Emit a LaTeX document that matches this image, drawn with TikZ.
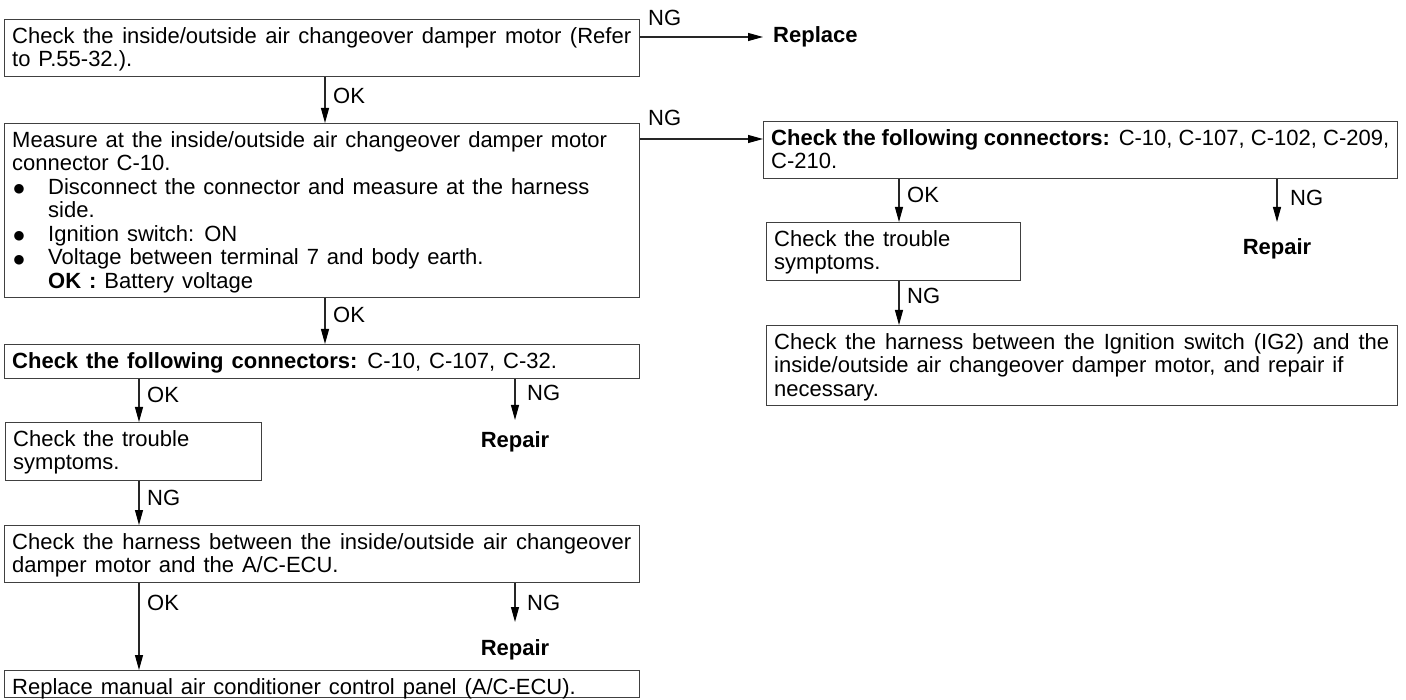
\documentclass[tikz,border=0pt]{standalone}
\usepackage{fontspec}
\setmainfont{Liberation Sans}[WordSpace=1.3]
\newfontfamily\symfont{DejaVu Sans}
\usetikzlibrary{arrows.meta}

\newcommand\fs{\fontsize{22}{23.5}\selectfont}
% bulleted item with hanging indent
\newcommand\bitem{\par\hangindent=36pt\hangafter=1\noindent\makebox[36pt][l]{\hspace{1.5pt}\raisebox{1.5pt}{\symfont\fontsize{12.5}{12}\selectfont ●}}}

\definecolor{boxc}{gray}{0.25}
\definecolor{linec}{gray}{0.15}

\tikzset{
  box/.style={draw=boxc, line width=1.2pt, rectangle, anchor=north west, inner sep=0pt},
  txt/.style={anchor=north west, inner sep=0pt, align=justify, font=\fs},
  lab/.style={anchor=west, inner sep=0pt, font=\fs},
  act/.style={inner sep=0pt, font=\fs\bfseries},
  flow/.style={draw=linec, line width=1.1pt, -{Triangle[length=15pt,width=8pt,black]}},
}

\begin{document}
\begin{tikzpicture}[x=1pt,y=-1pt]
\fill[white] (0,0) rectangle (1406,700);
\useasboundingbox (0,0) rectangle (1406,700);

% ---------- boxes ----------
\node[box, minimum width=635pt, minimum height=57pt]  (b1) at (4,19) {};
\node[box, minimum width=635pt, minimum height=174pt] (b2) at (4,123) {};
\node[box, minimum width=634pt, minimum height=57pt]  (b3) at (763,121) {};
\node[box, minimum width=254pt, minimum height=58pt]  (b4) at (766,222) {};
\node[box, minimum width=631pt, minimum height=80pt]  (b5) at (766,325) {};
\node[box, minimum width=635pt, minimum height=34pt]  (b6) at (4,344) {};
\node[box, minimum width=256pt, minimum height=58pt]  (b7) at (5,422) {};
\node[box, minimum width=635pt, minimum height=57pt]  (b8) at (4,525) {};
\node[box, minimum width=635pt, minimum height=27pt]  (b9) at (4,670) {};

% ---------- box texts ----------
\node[txt, text width=619pt] (t1) at ([shift={(8pt,-8pt)}]b1.north west)
  {Check the inside/outside air changeover damper motor (Refer\linebreak to P.55-32.).};
\node[txt, text width=619pt] (t2) at ([shift={(8pt,-8pt)}]b2.north west)
  {Measure at the inside/outside air changeover damper motor\newline connector C-10.
   \bitem Disconnect the connector and measure at the harness\newline side.
   \bitem Ignition switch: ON
   \bitem Voltage between terminal 7 and body earth.\newline \textbf{OK :} Battery voltage\par};
\node[txt, text width=618pt] (t3) at ([shift={(8pt,-8pt)}]b3.north west)
  {\textbf{Check the following connectors:} C-10, C-107, C-102, C-209,\linebreak C-210.};
\node[txt, text width=238pt] (t4) at ([shift={(8pt,-8pt)}]b4.north west)
  {Check the trouble\newline symptoms.};
\node[txt, text width=615pt] (t5) at ([shift={(8pt,-8pt)}]b5.north west)
  {Check the harness between the Ignition switch (IG2) and the\linebreak inside/outside air changeover damper motor, and repair if\newline necessary.};
\node[txt, text width=619pt] (t6) at ([shift={(8pt,-8pt)}]b6.north west)
  {\textbf{Check the following connectors:} C-10, C-107, C-32.};
\node[txt, text width=240pt] (t7) at ([shift={(8pt,-8pt)}]b7.north west)
  {Check the trouble\newline symptoms.};
\node[txt, text width=619pt] (t8) at ([shift={(8pt,-8pt)}]b8.north west)
  {Check the harness between the inside/outside air changeover\linebreak damper motor and the A/C-ECU.};
\node[txt, text width=619pt] (t9) at ([shift={(8pt,-8pt)}]b9.north west)
  {Replace manual air conditioner control panel (A/C-ECU).};

% ---------- end actions ----------
\node[act, anchor=west]  (rep) at (773,37) {Replace};
\node[act, anchor=north] (r1) at (1277,238) {Repair};
\node[act, anchor=north] (r2) at (515,431) {Repair};
\node[act, anchor=north] (r3) at (515,639) {Repair};

% ---------- branch positions ----------
\coordinate (xa) at (325,0);
\coordinate (xb) at (139,0);
\coordinate (xc) at (899,0);
\coordinate (yb2) at (0,139);

% ---------- connectors ----------
\draw[flow] (b1.east |- rep.west) -- ([xshift=-10pt]rep.west);
\draw[flow] (b1.south -| xa) -- (b2.north -| xa);
\draw[flow] (b2.east |- yb2) -- (b3.west |- yb2);
\draw[flow] (b2.south -| xa) -- (b6.north -| xa);
\draw[flow] (b3.south -| xc) -- (b4.north -| xc);
\draw[flow] (b3.south -| r1.north) -- ([yshift=16pt]r1.north);
\draw[flow] (b4.south -| xc) -- (b5.north -| xc);
\draw[flow] (b6.south -| xb) -- (b7.north -| xb);
\draw[flow] (b6.south -| r2.north) -- ([yshift=11pt]r2.north);
\draw[flow] (b7.south -| xb) -- (b8.north -| xb);
\draw[flow] (b8.south -| xb) -- (b9.north -| xb);
\draw[flow] (b8.south -| r3.north) -- ([yshift=17pt]r3.north);

% ---------- branch labels ----------
\node[lab] (l1)  at (648,18)  {NG};
\node[lab] (l2)  at (333,96)  {OK};
\node[lab] (l3)  at (648,118) {NG};
\node[lab] (l4)  at (333,315) {OK};
\node[lab] (l5)  at (907,195) {OK};
\node[lab] (l6)  at (1290,198) {NG};
\node[lab] (l7)  at (907,296) {NG};
\node[lab] (l8)  at (147,395) {OK};
\node[lab] (l9)  at (527,393) {NG};
\node[lab] (l10) at (147,498) {NG};
\node[lab] (l11) at (147,603) {OK};
\node[lab] (l12) at (527,603) {NG};
\end{tikzpicture}
\end{document}
